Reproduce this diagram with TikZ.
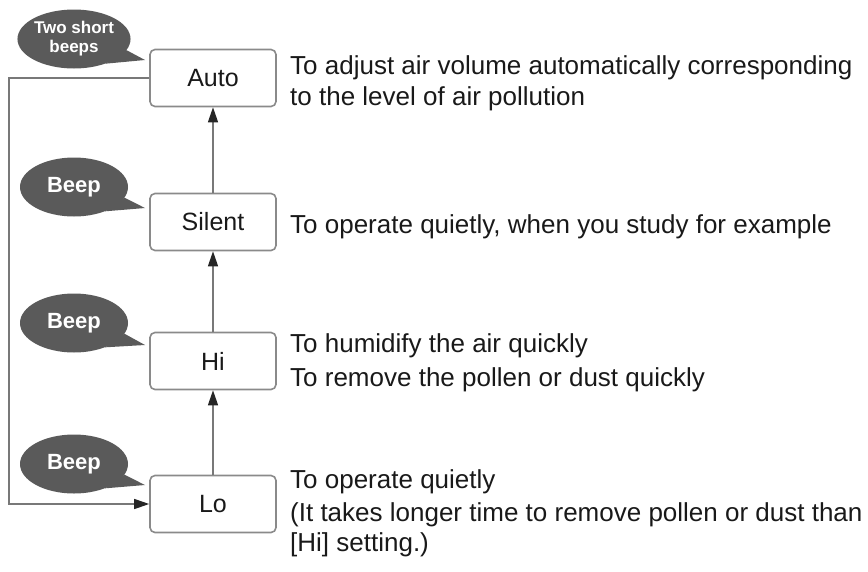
\documentclass[tikz,border=0pt]{standalone}
\usepackage{fontspec}
\setmainfont{Liberation Sans}
\usetikzlibrary{shapes.geometric,arrows.meta}
\definecolor{boxgray}{HTML}{8A8A8A}
\definecolor{linegray}{HTML}{787878}
\definecolor{bubblegray}{HTML}{5A5A5A}
\tikzset{
  modebox/.style={draw=boxgray,line width=1.6pt,rounded corners=5pt,fill=white,
    minimum width=126pt,minimum height=57pt,inner sep=0pt,
    font=\fontsize{25}{28}\selectfont,text=black!90},
  conn/.style={draw=linegray,line width=1.3pt,
    -{Triangle[length=15pt,width=10pt,fill=black!85,color=black!85]}},
  bubble/.style={ellipse,fill=bubblegray,minimum width=108pt,minimum height=59pt,
    inner sep=0pt,text=white,font=\bfseries\fontsize{22}{24}\selectfont},
  tail/.style={fill=bubblegray},
  desc/.style={anchor=base west,inner sep=0pt,font=\fontsize{26}{30}\selectfont,text=black!90}
}
\begin{document}
\begin{tikzpicture}[x=1pt,y=-1pt]
\useasboundingbox (0,0) rectangle (868,571);
% boxes
\node[modebox] (auto) at (213,78) {Auto};
\node[modebox] (silent) at (213,222) {Silent};
\node[modebox] (hi) at (213,361) {Hi};
\node[modebox] (lo) at (213,504) {Lo};
% arrows
\draw[conn] (silent.north) -- (auto.south);
\draw[conn] (hi.north) -- (silent.south);
\draw[conn] (lo.north) -- (hi.south);
\coordinate (L) at (9,0);
\draw[conn] (auto.west) -- (auto.west -| L) |- (lo.west);
% bubbles
\node[bubble,font=\bfseries\fontsize{17}{19}\selectfont,align=center] (b1) at (74,39) {Two short\\beeps};
\coordinate (t1) at (145,60);
\fill[tail] (b1.-38) -- (t1) -- (b1.-12) -- cycle;
\node[bubble] (b2) at (74,187) {Beep};
\coordinate (t2) at (145,208);
\fill[tail] (b2.-38) -- (t2) -- (b2.-12) -- cycle;
\node[bubble] (b3) at (74,323) {Beep};
\coordinate (t3) at (145,345);
\fill[tail] (b3.-38) -- (t3) -- (b3.-12) -- cycle;
\node[bubble] (b4) at (74,464) {Beep};
\coordinate (t4) at (145,485);
\fill[tail] (b4.-38) -- (t4) -- (b4.-12) -- cycle;
% descriptions
\node[desc] (d1a) at (290,74) {To adjust air volume automatically corresponding};
\node[desc] (d1b) at (290,105) {to the level of air pollution};
\node[desc] (d2a) at (290,233) {To operate quietly, when you study for example};
\node[desc] (d3a) at (290,352) {To humidify the air quickly};
\node[desc] (d3b) at (290,386) {To remove the pollen or dust quickly};
\node[desc] (d4a) at (290,488) {To operate quietly};
\node[desc] (d4b) at (290,521) {(It takes longer time to remove pollen or dust than};
\node[desc] (d4c) at (290,551) {[Hi] setting.)};
\end{tikzpicture}
\end{document}
